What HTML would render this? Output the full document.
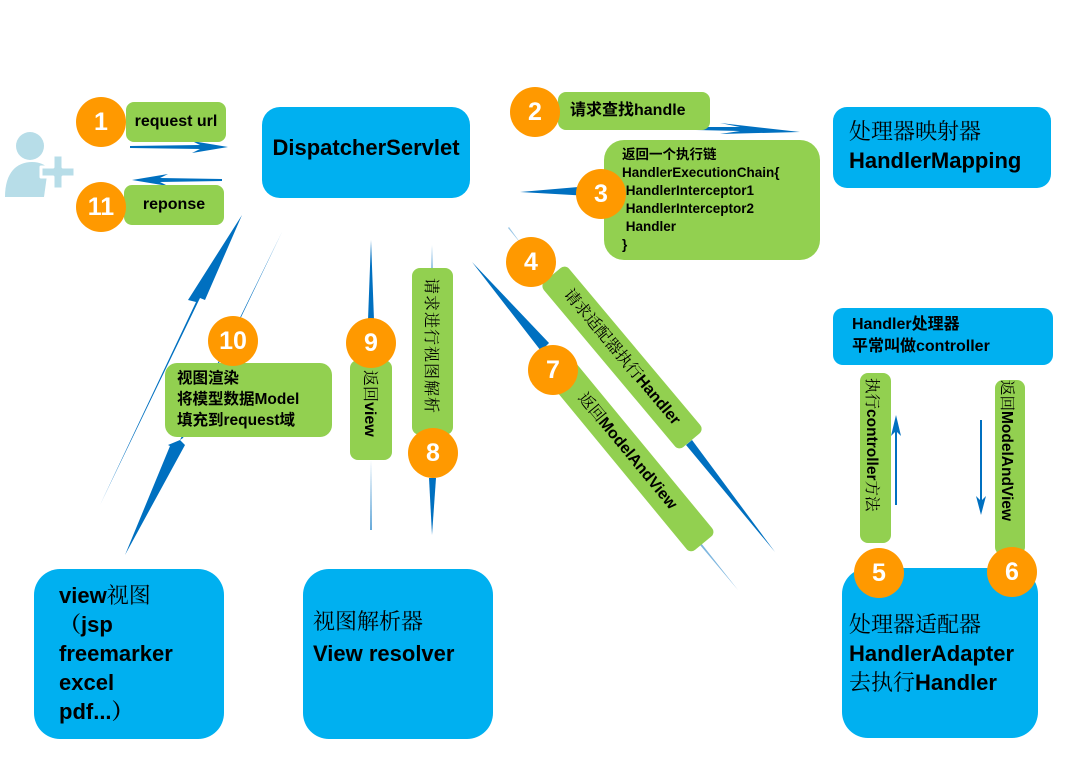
<!DOCTYPE html>
<html><head><meta charset="utf-8">
<style>
body{margin:0;width:1072px;height:777px;background:#fff;position:relative;overflow:hidden;font-family:"Liberation Sans","Noto Sans CJK SC",sans-serif;font-weight:bold;color:#000}
.b{position:absolute;background:#00b0f0;border-radius:22px}
.g{position:absolute;background:#92d050;border-radius:8px}
.c{position:absolute;width:50px;height:50px;border-radius:50%;background:#ff9900;color:#fff;font-size:25px;text-align:center;line-height:50px;font-family:"Liberation Sans",sans-serif}
.s{font-family:"Liberation Sans","Noto Serif CJK SC",serif}
.v{position:absolute;white-space:nowrap;transform-origin:0 0}
svg{position:absolute;left:0;top:0}
</style></head><body>
<svg width="1072" height="777">
<g fill="#0070c0">
<polygon points="130,146 200,145 192,141 228,147 192,153 200,149 130,148"/>
<polygon points="222,179 160,178 168,174 132,180 168,186 160,182 222,181"/>
<polygon points="560,127 740,127 720,123 800,132 720,134 740,131"/>
<polygon points="520,192 590,186 590,196"/>
<polygon points="242,215 205,300 200,298 100,505 196,302 188,300"/>
<polygon points="282,232 180,440 183,438"/>
<polygon points="180,440 185,445 125,555 170,446 168,445"/>
<polygon points="371,240 374,320 368,320"/>
<polygon points="371,460 372,530 370,530" opacity="0.6"/>
<polygon points="432,245 433,268 431,268" opacity="0.4"/>
<polygon points="429,478 436,478 432,535"/>
<polygon points="472,262 549,343 541,351"/>
<polygon points="686,445 692,440 775,552"/>
<polygon points="700,545 738,590 701,543" opacity="0.5"/>
<polygon points="508,228 522,245 509,227" opacity="0.4"/>
<polygon points="895,505 897,505 897,432 901,436 896,415 891,436 895,432"/>
<polygon points="980,420 982,420 982,500 986,496 981,515 976,496 980,500"/>
</g>
<g fill="#b7dde8">
<circle cx="30" cy="146" r="14"/>
<path d="M5,197 C5,172 17,162 32,162 C40,162 45,165 48,168 L44,197 Z"/>
<path d="M53,155 h10 v12 h12 v10 h-12 v12 h-10 v-12 h-12 v-10 h12 z" stroke="#fff" stroke-width="3" stroke-linejoin="round"/>
</g>
</svg>

<div class="b" style="left:262px;top:107px;width:208px;height:91px;border-radius:18px;font-size:22px;text-align:center;line-height:82px">DispatcherServlet</div>
<div class="b s" style="left:833px;top:107px;width:218px;height:81px;border-radius:14px;font-size:22px;line-height:29px;padding:10px 0 0 16px;box-sizing:border-box"><span style="font-weight:normal">处理器映射器</span><br>HandlerMapping</div>
<div class="b" style="left:833px;top:308px;width:220px;height:57px;border-radius:10px;font-size:16px;line-height:22px;padding:6px 0 0 19px;box-sizing:border-box">Handler处理器<br>平常叫做controller</div>
<div class="b s" style="left:34px;top:569px;width:190px;height:170px;border-radius:26px;font-size:22px;line-height:29px;padding:12px 0 0 25px;box-sizing:border-box">view<span style="font-weight:normal">视图</span><br>（jsp<br>freemarker<br>excel<br>pdf...）</div>
<div class="b s" style="left:303px;top:569px;width:190px;height:170px;border-radius:26px;font-size:22px;line-height:32px;padding:37px 0 0 10px;box-sizing:border-box"><span style="font-weight:normal">视图解析器</span><br>View resolver</div>
<div class="b s" style="left:842px;top:568px;width:196px;height:170px;border-radius:26px;font-size:22px;line-height:29px;padding:42px 0 0 7px;box-sizing:border-box"><span style="font-weight:normal">处理器适配器</span><br>HandlerAdapter<br><span style="font-weight:normal">去执行</span>Handler</div>

<div class="g" style="left:126px;top:102px;width:100px;height:40px;font-size:16px;line-height:40px;text-align:center">request url</div>
<div class="g" style="left:124px;top:185px;width:100px;height:40px;font-size:16px;line-height:40px;text-align:center">reponse</div>
<div class="g" style="left:558px;top:92px;width:152px;height:38px;font-size:16px;line-height:38px;padding-left:12px;box-sizing:border-box">请求查找handle</div>
<div class="g" style="left:604px;top:140px;width:216px;height:120px;border-radius:20px;font-size:13.5px;line-height:18px;padding:6px 0 0 18px;box-sizing:border-box">返回一个执行链<br>HandlerExecutionChain{<br>&nbsp;HandlerInterceptor1<br>&nbsp;HandlerInterceptor2<br>&nbsp;Handler<br>}</div>
<div class="g" style="left:165px;top:363px;width:167px;height:74px;border-radius:12px;font-size:15.5px;line-height:21px;padding:5px 0 0 12px;box-sizing:border-box">视图渲染<br>将模型数据Model<br>填充到request域</div>

<div class="g" style="left:350px;top:360px;width:42px;height:100px"></div>
<div class="v" style="left:383px;top:370px;transform:rotate(90deg);font-size:16px"><span class="s" style="font-weight:normal">返回</span>view</div>
<div class="g" style="left:412px;top:268px;width:41px;height:167px"></div>
<div class="v s" style="left:444px;top:278px;transform:rotate(90deg);font-size:16px;font-weight:normal;letter-spacing:1px">请求进行视图解析</div>
<div class="g" style="left:860px;top:373px;width:31px;height:170px"></div>
<div class="v" style="left:884px;top:378px;transform:rotate(90deg);font-size:15.5px"><span class="s" style="font-weight:normal">执行</span>controller<span class="s" style="font-weight:normal">方法</span></div>
<div class="g" style="left:995px;top:380px;width:30px;height:175px"></div>
<div class="v" style="left:1019px;top:380px;transform:rotate(90deg);font-size:15.5px"><span class="s" style="font-weight:normal">返回</span>ModelAndView</div>

<div class="g" style="left:514px;top:341px;width:216px;height:33px;border-radius:6px;transform:rotate(50deg);font-size:16px;line-height:33px;padding-left:22px;box-sizing:border-box;white-space:nowrap"><span class="s" style="font-weight:normal">请求适配器执行</span>Handler</div>
<div class="g" style="left:515px;top:438px;width:230px;height:33px;border-radius:6px;transform:rotate(50.5deg);font-size:16px;line-height:33px;padding-left:38px;box-sizing:border-box;white-space:nowrap"><span class="s" style="font-weight:normal">返回</span>ModelAndView</div>

<div class="c" style="left:76px;top:97px">1</div>
<div class="c" style="left:76px;top:182px">11</div>
<div class="c" style="left:510px;top:87px">2</div>
<div class="c" style="left:576px;top:169px">3</div>
<div class="c" style="left:506px;top:237px">4</div>
<div class="c" style="left:208px;top:316px">10</div>
<div class="c" style="left:346px;top:318px">9</div>
<div class="c" style="left:408px;top:428px">8</div>
<div class="c" style="left:528px;top:345px">7</div>
<div class="c" style="left:854px;top:548px">5</div>
<div class="c" style="left:987px;top:547px">6</div>
</body></html>
